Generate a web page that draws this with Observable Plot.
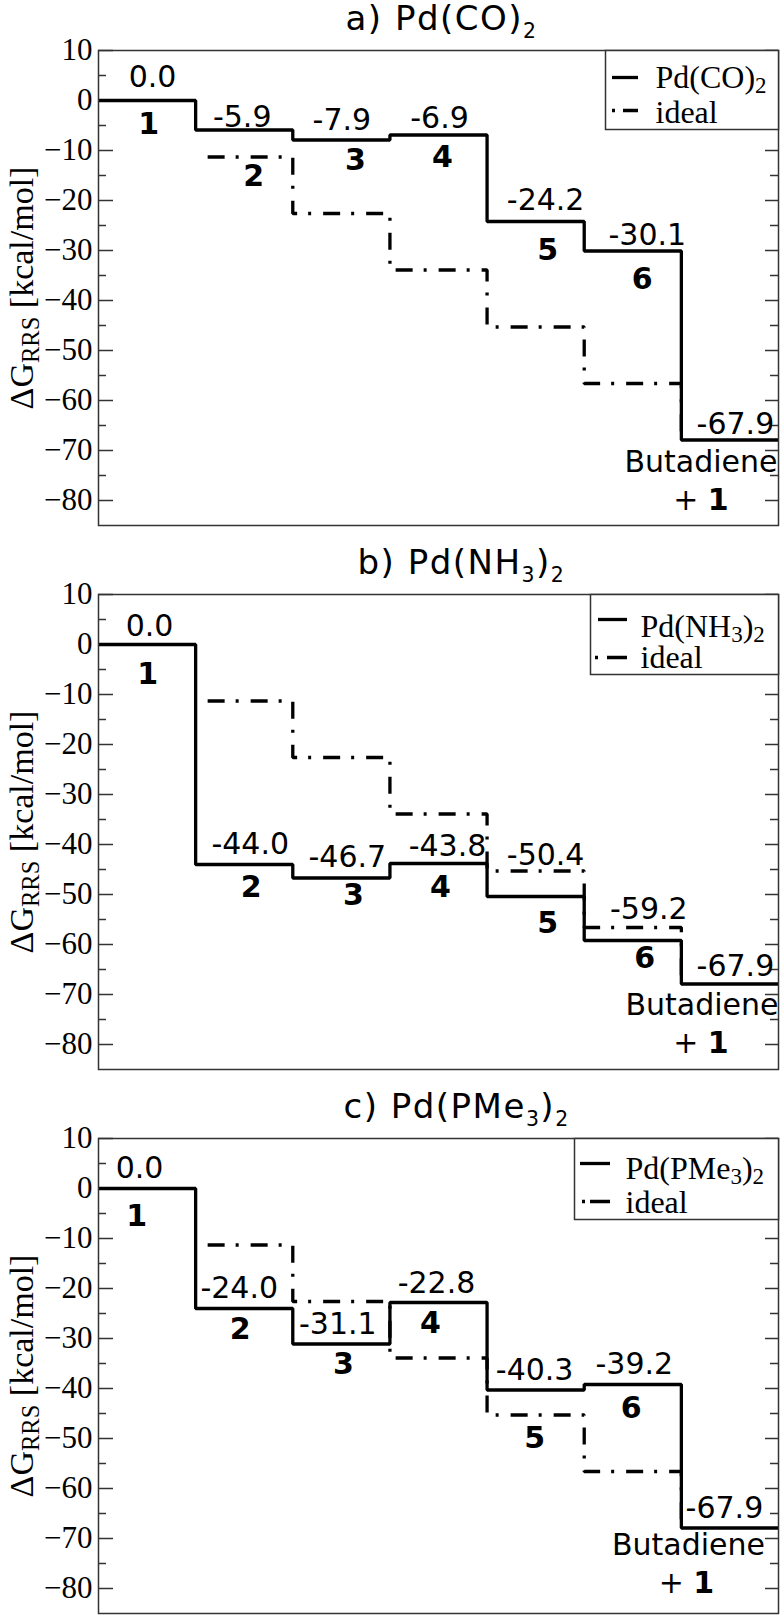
<!DOCTYPE html>
<html><head><meta charset="utf-8">
<script src="https://cdn.jsdelivr.net/npm/d3@7"></script>
<script src="https://cdn.jsdelivr.net/npm/@observablehq/plot@0.6"></script>
<style>body{margin:0;background:#fff;} svg{display:block;}</style>
</head><body><div id="chart"></div>
<script>
// ---------- data ----------
const stateNames = ["1", "2", "3", "4", "5", "6"];
const productLabel = ["Butadiene", "+ *{1}"];
const valuesCO   = [0.0, -5.9, -7.9, -6.9, -24.2, -30.1, -67.9];
const valuesNH3  = [0.0, -44.0, -46.7, -43.8, -50.4, -59.2, -67.9];
const valuesPMe3 = [0.0, -24.0, -31.1, -22.8, -40.3, -39.2, -67.9];
const idealValues = [null, -11.3, -22.6, -33.9, -45.3, -56.6, -67.9];
const yTicksMajor = [-80, -70, -60, -50, -40, -30, -20, -10, 0, 10];
const yTicksMinor = [-75, -65, -55, -45, -35, -25, -15, -5, 5];
const yDomain = [-85, 10];
const panelTitles = ["a) Pd(CO)_{2}", "b) Pd(NH_{3})_{2}", "c) Pd(PMe_{3})_{2}"];
const legendNames = ["Pd(CO)_{2}", "Pd(NH_{3})_{2}", "Pd(PMe_{3})_{2}"];
const idealName = "ideal";
const yLabel = "ΔG_{RRS} [kcal/mol]";

// ---------- layout (pixels) ----------
const W = 784, ML = 98, MR = 6, FW = W - ML - MR, FH = 475;
const layouts = [
  { values: valuesCO, mt: 50, mb: 19, titleX: 345,
    valueDx: [5.5, -2, 0.5, 1, 10, 14.5, 5.5], valueDy: [-14, -3.5, -10, -7, -12, -6.5, -6],
    numDx: [1.5, 9.5, 14, 4, 12, 9.5], numDy: [33, 56, 30, 31.5, 38, 38],
    prodDx: [-29, -29], prodDy: [31.5, 70],
    leg: { x1: 605, h: 79, solid: [612, 638, 27], dash: [612, 638, 60], dot: 3, gap: 8, dashLen: 15, textX: 655, t1: 37, t2: 72 } },
  { values: valuesNH3, mt: 50, mb: 19, titleX: 357,
    valueDx: [2.5, 6, 6, 9, 10, 16, 5.5], valueDy: [-9, -11, -11.5, -8, -32, -22, -8],
    numDx: [0.5, 7, 12, 2, 12, 12], numDy: [39, 32, 27, 33, 36, 27],
    prodDx: [-28, -29], prodDy: [31, 69],
    leg: { x1: 590, h: 80, solid: [598, 627, 25], dash: [595, 627, 63], dot: 3, gap: 9, dashLen: 20, textX: 640, t1: 42, t2: 73 } },
  { values: valuesPMe3, mt: 50, mb: 5, titleX: 343,
    valueDx: [-7.5, -5, -3.5, -2, -1, 1.5, -5.5], valueDy: [-11, -11, -10, -10, -10, -11, -10],
    numDx: [-10.5, -4, 2, -8, -1, -1.5], numDy: [37, 30.5, 29.5, 30, 58, 33],
    prodDx: [-41.5, -43.5], prodDy: [27, 65],
    leg: { x1: 574, h: 81, solid: [580, 610, 25], dash: [582, 610, 63], dot: 3, gap: 5, dashLen: 20, textX: 625, t1: 40, t2: 74 } }
];

const serif = "'Liberation Serif', 'Times New Roman', serif";
const sans = "'DejaVu Sans', sans-serif";
const ink = "#000", frameInk = "#333";

function panel(k) {
  const p = layouts[k];
  const vals = p.values;
  const solid = vals.map((v, i) => ({x: i, y: v}));
  solid.push({x: vals.length, y: vals[vals.length - 1]});
  const ideal = idealValues.map((v, i) => ({x: i, y: v})).filter(d => d.y !== null);
  const yTop = yDomain[1];
  const marks = [
    Plot.ruleY(yTicksMajor, {insetRight: FW - 15, stroke: frameInk, strokeWidth: 1.5}),
    Plot.ruleY(yTicksMinor, {insetRight: FW - 8, stroke: frameInk, strokeWidth: 1.5}),
    Plot.ruleY(yTicksMajor, {insetLeft: FW - 13, stroke: frameInk, strokeWidth: 1.5}),
    Plot.ruleY(yTicksMinor, {insetLeft: FW - 8, stroke: frameInk, strokeWidth: 1.5}),
    Plot.axisY({ticks: yTicksMajor, tickSize: 0, tickPadding: 6, fontSize: 31, fontFamily: serif, label: null, fill: ink}),
    Plot.text([yLabel], {text: d => d, frameAnchor: "left", rotate: -90, dx: -66, lineAnchor: "bottom", textAnchor: "middle", fontSize: 34, fontFamily: serif, fill: ink}),
    Plot.text([panelTitles[k]], {text: d => d, frameAnchor: "top-left", dx: p.titleX - ML, dy: -21, lineAnchor: "bottom", textAnchor: "start", fontSize: 34, fontFamily: sans, fill: ink}),
    Plot.line(ideal, {x: "x", y: "y", curve: "step-after", stroke: ink, strokeWidth: 3.3, strokeDasharray: "17,11,3,12", strokeDashoffset: 31, strokeLinecap: "butt", strokeLinejoin: "miter"}),
    Plot.line(solid, {x: "x", y: "y", curve: "step-after", stroke: ink, strokeWidth: 3.3, strokeLinecap: "butt", strokeLinejoin: "miter"})
  ];
  vals.forEach((v, i) => {
    marks.push(Plot.text([{x: i + 0.5, y: v, t: v.toFixed(1)}], {x: "x", y: "y", text: "t", dx: p.valueDx[i], dy: p.valueDy[i], lineAnchor: "bottom", textAnchor: "middle", fontSize: 30, fontFamily: sans, fill: ink}));
    if (i < stateNames.length) {
      marks.push(Plot.text([{x: i + 0.5, y: v, t: stateNames[i]}], {x: "x", y: "y", text: "t", dx: p.numDx[i], dy: p.numDy[i], lineAnchor: "bottom", textAnchor: "middle", fontSize: 30, fontWeight: "bold", fontFamily: sans, fill: ink}));
    }
  });
  const last = vals.length - 1;
  productLabel.forEach((t, j) => {
    marks.push(Plot.text([{x: last + 0.5, y: vals[last], t}], {x: "x", y: "y", text: "t", dx: p.prodDx[j], dy: p.prodDy[j], lineAnchor: "bottom", textAnchor: "middle", fontSize: 30, fontFamily: sans, fill: ink}));
  });
  marks.push(Plot.frame({stroke: frameInk, strokeWidth: 1.5}));
  // legend
  const g = p.leg;
  marks.push(Plot.frame({fill: "white", stroke: frameInk, strokeWidth: 1.5, insetLeft: g.x1 - ML, insetBottom: FH - g.h}));
  marks.push(Plot.ruleY([yTop], {insetLeft: g.solid[0] - ML, insetRight: W - MR - g.solid[1], dy: g.solid[2], stroke: ink, strokeWidth: 3.3}));
  marks.push(Plot.ruleY([yTop], {insetLeft: g.dash[0] - ML, insetRight: W - MR - g.dash[1], dy: g.dash[2], stroke: ink, strokeWidth: 3.3, strokeDasharray: `${g.dot},${g.gap},${g.dashLen},300`}));
  marks.push(Plot.text([legendNames[k]], {text: d => d, frameAnchor: "top-left", dx: g.textX - ML, dy: g.t1, lineAnchor: "bottom", textAnchor: "start", fontSize: 32, fontFamily: serif, fill: ink}));
  marks.push(Plot.text([idealName], {text: d => d, frameAnchor: "top-left", dx: g.textX - ML, dy: g.t2, lineAnchor: "bottom", textAnchor: "start", fontSize: 32, fontFamily: serif, fill: ink}));

  return Plot.plot({
    width: W, height: p.mt + FH + p.mb,
    marginLeft: ML, marginRight: MR, marginTop: p.mt, marginBottom: p.mb,
    style: {background: "white", color: "black", overflow: "visible"},
    x: {domain: [0, vals.length], axis: null},
    y: {domain: yDomain},
    marks
  });
}

const root = document.getElementById("chart");
for (let k = 0; k < 3; k++) root.appendChild(panel(k));

// force font families given as attributes (inline style wins over any inherited rule)
root.querySelectorAll("[font-family]").forEach(el => { el.style.fontFamily = el.getAttribute("font-family"); });
root.querySelectorAll('g[aria-label="y-axis tick label"]').forEach(el => {
  el.style.fontFamily = serif; el.style.fontSize = "31px";
  el.querySelectorAll("text").forEach(t => { t.style.fontFamily = serif; });
});

// rich text: _{..} subscript, *{..} bold
const NS = "http://www.w3.org/2000/svg";
root.querySelectorAll("text").forEach(t => {
  const s = t.textContent;
  if (panelTitles.includes(s)) t.style.letterSpacing = "1.5px";
  if (!/[_*]\{/.test(s)) return;
  const cs = getComputedStyle(t);
  const fs = parseFloat(cs.fontSize);
  const isSans = /DejaVu/.test(cs.fontFamily);
  const subScale = isSans ? 0.6 : 0.72;
  const shift = (isSans ? 0.25 : 0.18) * fs;
  const parts = s.split(/(_\{[^}]*\}|\*\{[^}]*\})/).filter(x => x.length);
  t.textContent = "";
  let cur = 0;
  parts.forEach(part => {
    const ts = document.createElementNS(NS, "tspan");
    let target = 0;
    if (part.startsWith("_{")) {
      ts.textContent = part.slice(2, -1);
      ts.setAttribute("font-size", (fs * subScale).toFixed(1) + "px");
      target = shift;
    } else if (part.startsWith("*{")) {
      ts.textContent = part.slice(2, -1);
      ts.setAttribute("font-weight", "bold");
    } else {
      ts.textContent = part;
    }
    if (target !== cur) ts.setAttribute("dy", (target - cur).toFixed(1));
    cur = target;
    t.appendChild(ts);
  });
});
</script>
</body></html>
